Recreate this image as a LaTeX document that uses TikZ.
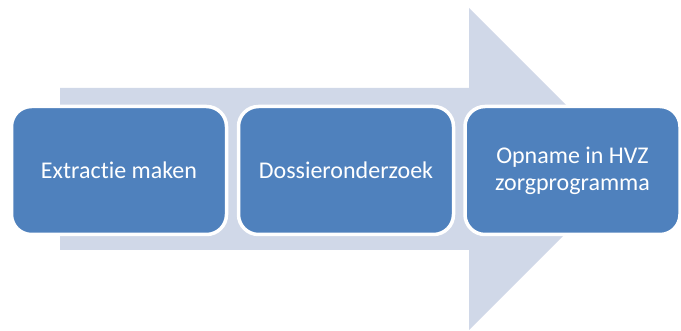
\documentclass[tikz,border=0pt]{standalone}
\usepackage{fontspec}
\setmainfont{Carlito}[Ligatures=NoCommon]
\definecolor{arrowfill}{HTML}{D0D8E8}
\definecolor{boxfill}{HTML}{4F81BD}
\begin{document}
\begin{tikzpicture}[x=1pt,y=-1pt,
  stepbox/.style={draw=white, line width=3.5pt, fill=boxfill, rounded corners=20pt,
    minimum width=215pt, minimum height=128pt, inner sep=0pt, text=white,
    font=\fontsize{24}{27}\selectfont, align=center}]
\useasboundingbox (0,0) rectangle (681,331);
\fill[arrowfill] (60,88) -- (469,88) -- (469,8) -- (630,169) -- (469,330) -- (469,250) -- (60,250) -- cycle;
\node[stepbox] (a) at (119,170.5) {Extractie maken};
\node[stepbox] (b) at (346,170.5) {Dossieronderzoek};
\node[stepbox] (c) at (572.5,170.5) {Opname in HVZ\\zorgprogramma};
\end{tikzpicture}
\end{document}
